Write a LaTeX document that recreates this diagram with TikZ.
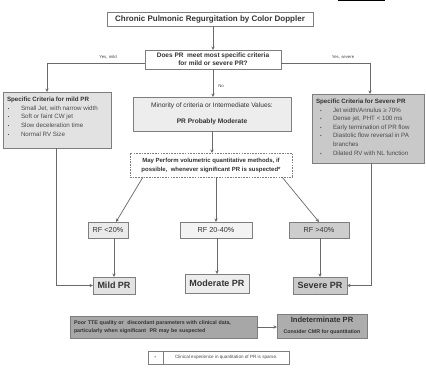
\documentclass[tikz,border=0pt]{standalone}
\usepackage{fontspec}
\setmainfont{Liberation Sans}
\usetikzlibrary{arrows.meta,shapes.multipart}
\definecolor{bord}{HTML}{7E7E7E}
\definecolor{arrc}{HTML}{6A6A6A}
\definecolor{txt}{HTML}{333333}
\definecolor{txtl}{HTML}{4A4A4A}
\definecolor{mildf}{HTML}{E2E2E2}
\definecolor{midf}{HTML}{EDEDED}
\definecolor{sevf}{HTML}{C9C9C9}
\definecolor{rfa}{HTML}{EAEAEA}
\definecolor{rfb}{HTML}{F3F3F3}
\definecolor{rfc}{HTML}{CDCDCD}
\definecolor{poorf}{HTML}{A7A7A7}
\definecolor{indf}{HTML}{ADADAD}
\newcommand{\fsz}[2]{\fontsize{#1}{#2}\selectfont}
\newcommand{\bul}{\makebox[14pt][l]{\hspace{1pt}{\fsz{4.5}{5}\textbullet}}}
\begin{document}
\begin{tikzpicture}[x=1pt,y=-1pt,
  box/.style={draw=bord, line width=0.7pt, inner sep=0pt, outer sep=0pt, align=center, text=txt},
  arr/.style={draw=arrc, line width=0.7pt, -{Stealth[length=3.5pt,width=3.2pt]}},
  ln/.style={draw=arrc, line width=0.7pt},
  lbl/.style={inner sep=0pt, text=txtl, font=\fsz{4.3}{5}},
  res/.style={box, font=\bfseries\fsz{9}{10}}]
\useasboundingbox (0,0) rectangle (426,371);
\fill[white] (0,0) rectangle (426,371);
\draw[black, line width=1.3pt] (338,0.7) -- (385,0.7);

% title and question
\node[box, fill=white, minimum width=206pt, minimum height=14pt, font=\bfseries\fsz{8}{9}] (title) at (210,19) {Chronic Pulmonic Regurgitation by Color Doppler};
\node[box, fill=white, minimum width=136pt, minimum height=19pt, font=\bfseries\fsz{6.5}{8}] (q) at (213,59.5) {Does PR\ \ meet most specific criteria\\for mild or severe PR?};

% criteria boxes
\node[box, fill=mildf, anchor=north west, inner xsep=4pt, align=left, text=txtl] (mild) at (3,92) {\parbox[c][56pt][t]{100pt}{\fsz{6.2}{8.7}\raggedright\vspace*{5pt}%
{\bfseries\color{txt}Specific Criteria for mild PR}\\
\bul Small Jet, with narrow width\\
\bul Soft or faint CW jet\\
\bul Slow deceleration time\\
\bul Normal RV Size}};
\node[box, fill=sevf, anchor=north west, inner xsep=4pt, align=left, text=txtl] (sev) at (312,94) {\parbox[c][69pt][t]{104pt}{\fsz{6.2}{8.6}\raggedright\vspace*{5pt}%
{\bfseries\color{txt}Specific Criteria for Severe PR}\\
\hspace*{3pt}\bul Jet width/Annulus ≥ 70\%\\
\hspace*{3pt}\bul Dense jet, PHT < 100 ms\\
\hspace*{3pt}\bul Early termination of PR flow\\
\hspace*{3pt}\bul Diastolic flow reversal in PA\\
\hspace*{17pt}branches\\
\hspace*{3pt}\bul Dilated RV with NL function}};

\node[box, fill=midf, minimum width=158pt, minimum height=34pt, font=\fsz{6.6}{8}] (mid) at (212,114) {Minority of criteria or Intermediate Values:\\[8pt]{\bfseries PR Probably Moderate}};
\node[box, fill=white, dash pattern=on 1.6pt off 1.1pt, minimum width=162pt, minimum height=24pt, font=\bfseries\fsz{6}{9}] (dash) at (211,165) {May Perform volumetric quantitative methods, if\\possible,\ \ whenever significant PR is suspected*};

% RF boxes
\node[box, fill=rfa, minimum width=40pt, minimum height=16pt, font=\fsz{7.3}{8}] (rf1) at (108,230) {RF <20\%};
\node[box, fill=rfb, minimum width=72pt, minimum height=16pt, font=\fsz{7.3}{8}] (rf2) at (216,230) {RF 20-40\%};
\node[box, fill=rfc, minimum width=60pt, minimum height=16pt, font=\fsz{7.3}{8}] (rf3) at (319,230) {RF >40\%};

% results
\node[res, fill=mildf, minimum width=42pt, minimum height=17pt] (mildpr) at (114,285.5) {Mild PR};
\node[res, fill=midf, minimum width=64pt, minimum height=19pt] (modpr) at (217,283.5) {Moderate PR};
\node[res, fill=sevf, minimum width=54pt, minimum height=17pt] (sevpr) at (320,285.5) {Severe PR};

% bottom
\node[box, fill=poorf, minimum height=22pt, text width=179pt, inner xsep=4pt, align=left, font=\bfseries\fsz{5.3}{8}, text=txt] (poor) at (163.5,327) {Poor TTE quality or\ \ discordant parameters with clinical data,\\particularly when significant\ \ PR may be suspected};
\node[box, fill=indf, minimum width=90pt, minimum height=24pt, text=txt] (indet) at (322,326) {{\bfseries\fsz{7.6}{9}Indeterminate PR}\\[-0.5pt]{\bfseries\fsz{5.3}{6}Consider CMR for quantitation}};
\node[draw=bord, line width=0.5pt, fill=white, rectangle split, rectangle split horizontal, rectangle split parts=2, inner xsep=0pt, inner ysep=4.3pt, font=\fsz{4.6}{5}, text=txtl] (foot) at (218.5,357.5) {\makebox[15pt]{*}\nodepart{two}\makebox[126pt]{Clinical experience in quantitation of PR is sparse.}};

% labels
\node[lbl] (ym) at (108,57) {Yes, mild};
\node[lbl] (ys) at (343,57) {Yes, severe};
\node[lbl] (no) at (221,86) {No};

% connectors
\draw[arr] (title.south -| q.north) -- (q.north);
\draw[arr] ([yshift=-3.5pt]q.west) -| ([xshift=-10pt]mild.north);
\draw[arr] ([yshift=-3.5pt]q.east) -| ([xshift=2pt]sev.north);
\draw[arr] (q.south) -- (q.south |- mid.north);
\draw[arr] (mid.south) -- (mid.south |- dash.north);
\draw[arr] ([xshift=-68pt]dash.south) -- ([xshift=8pt]rf1.north);
\draw[arr] (dash.south -| rf2.north) -- (rf2.north);
\draw[arr] ([xshift=71pt]dash.south) -- (rf3.north);
\draw[arr] (mildpr.north |- rf1.south) -- (mildpr.north);
\draw[arr] (modpr.north |- rf2.south) -- (modpr.north);
\draw[arr] (sevpr.north |- rf3.south) -- (sevpr.north);
\draw[arr] ([xshift=-1pt]mild.south) |- (mildpr.west);
\draw[arr] ([xshift=3pt]sev.south) |- (sevpr.east);
\draw[arr] (poor.east) -- (poor.east -| indet.west);
\end{tikzpicture}
\end{document}
